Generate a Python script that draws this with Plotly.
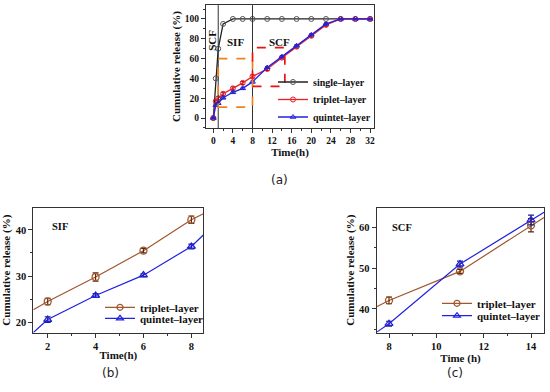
import plotly.graph_objects as go

# ---------------- data (a) ----------------
time_all = [0, 0.5, 1, 2, 4, 6, 8, 11, 14, 17, 20, 23, 26, 29, 32]
single_layer = [0, 40, 70, 95, 100, 100, 100, 100, 100, 100, 100, 100, 100, 100, 100]
triplet_layer = [0, 17, 20, 24.5, 30, 35.5, 42, 49.5, 61, 72, 83, 94, 100, 100, 100]
quintet_layer = [0, 13, 15, 20.5, 26, 30, 36.5, 51, 62, 73, 84, 95, 100, 100, 100]
triplet_err_all = [0, 1.5, 1.5, 1.5, 1.5, 1.5, 1.5, 1.5, 1.5, 1.5, 1.5, 1.5, 0, 0, 0]
quintet_err_all = [0, 1, 1, 1, 1, 1, 1, 1, 1, 1, 1, 1, 0, 0, 0]
phase_bounds = [1, 8]
sif_box = {"x": [1, 8], "y": [11, 60]}
scf_box = {"x": [8, 14.6], "y": [32, 71]}

# ---------------- data (b) SIF ----------------
sif_time = [2, 4, 6, 8]
sif_triplet = [24.5, 29.8, 35.5, 42.2]
sif_triplet_err = [0.7, 0.9, 0.5, 0.8]
sif_quintet = [20.6, 25.8, 30.2, 36.4]
sif_quintet_err = [0.6, 0.4, 0.3, 0.5]
sif_trip_line_t = [1.4, 2, 4, 6, 8, 8.5]
sif_trip_line_y = [22.7, 24.5, 29.8, 35.5, 42.2, 43.5]
sif_quin_line_t = [1.4, 2, 4, 6, 8, 8.5]
sif_quin_line_y = [17.8, 20.6, 25.8, 30.2, 36.4, 38.9]

# ---------------- data (c) SCF ----------------
scf_time = [8, 11, 14]
scf_triplet = [42.1, 49.2, 60.5]
scf_triplet_err = [0.8, 0.5, 1.6]
scf_quintet = [36.4, 51.0, 61.8]
scf_quintet_err = [0.6, 0.7, 1.2]
scf_trip_line_t = [7.5, 8, 11, 14, 14.55]
scf_trip_line_y = [40.6, 42.1, 49.2, 60.5, 62.4]
scf_quin_line_t = [7.5, 8, 11, 14, 14.55]
scf_quin_line_y = [34.4, 36.4, 51.0, 61.8, 63.7]

SERIF = "Liberation Serif, Times New Roman, serif"
BLACK = "#222222"
RED = "#e8202a"
BLUE = "#2222e0"
BROWN = "#a0572d"
ORANGE = "#f0821e"

fig = go.Figure()

# (a)
fig.add_trace(go.Scatter(x=time_all, y=single_layer, mode="lines+markers", name="single\u2013layer",
                         line=dict(color=BLACK, width=1.3),
                         marker=dict(symbol="circle-open", size=5, color="#555555", line=dict(width=1)),
                         xaxis="x", yaxis="y", legend="legend"))
fig.add_trace(go.Scatter(x=time_all, y=triplet_layer, mode="lines+markers", name="triplet\u2013layer",
                         line=dict(color=RED, width=1.3),
                         error_y=dict(type="data", array=triplet_err_all, color="#8b1010", thickness=1, width=2),
                         marker=dict(symbol="circle-open", size=5, color=RED, line=dict(width=1)),
                         xaxis="x", yaxis="y", legend="legend6"))
fig.add_trace(go.Scatter(x=time_all, y=quintet_layer, mode="lines+markers", name="quintet\u2013layer",
                         line=dict(color=BLUE, width=1.3),
                         error_y=dict(type="data", array=quintet_err_all, color="#202080", thickness=1, width=2),
                         marker=dict(symbol="triangle-up-open", size=5, color=BLUE, line=dict(width=1)),
                         xaxis="x", yaxis="y", legend="legend7"))


def panel(xa, ya, leg_t, leg_q, t, trip, trip_err, quin, quin_err, tl_t, tl_y, ql_t, ql_y):
    fig.add_trace(go.Scatter(x=tl_t, y=tl_y, mode="lines", line=dict(color=BROWN, width=1.2),
                             showlegend=False, hoverinfo="skip", xaxis=xa, yaxis=ya))
    fig.add_trace(go.Scatter(x=ql_t, y=ql_y, mode="lines", line=dict(color=BLUE, width=1.2),
                             showlegend=False, hoverinfo="skip", xaxis=xa, yaxis=ya))
    fig.add_trace(go.Scatter(x=t, y=trip, mode="markers", showlegend=False,
                             error_y=dict(type="data", array=trip_err, color="#5a2a10", thickness=1.2, width=3),
                             marker=dict(symbol="circle-open", size=7, color=BROWN, line=dict(width=1.3)),
                             xaxis=xa, yaxis=ya))
    fig.add_trace(go.Scatter(x=t, y=quin, mode="markers", showlegend=False,
                             error_y=dict(type="data", array=quin_err, color="#202080", thickness=1.2, width=3),
                             marker=dict(symbol="triangle-up-open", size=7, color=BLUE, line=dict(width=1.3)),
                             xaxis=xa, yaxis=ya))
    # legend entries (line + marker symbol)
    fig.add_trace(go.Scatter(x=[None], y=[None], mode="lines+markers", name="triplet\u2013layer",
                             line=dict(color=BROWN, width=1.2),
                             marker=dict(symbol="circle-open", size=6, color=BROWN, line=dict(width=1.2)),
                             xaxis=xa, yaxis=ya, legend=leg_t))
    fig.add_trace(go.Scatter(x=[None], y=[None], mode="lines+markers", name="quintet\u2013layer",
                             line=dict(color=BLUE, width=1.2),
                             marker=dict(symbol="triangle-up-open", size=6, color=BLUE, line=dict(width=1.2)),
                             xaxis=xa, yaxis=ya, legend=leg_q))


panel("x2", "y2", "legend2", "legend4", sif_time, sif_triplet, sif_triplet_err, sif_quintet, sif_quintet_err,
      sif_trip_line_t, sif_trip_line_y, sif_quin_line_t, sif_quin_line_y)
panel("x3", "y3", "legend3", "legend5", scf_time, scf_triplet, scf_triplet_err, scf_quintet, scf_quintet_err,
      scf_trip_line_t, scf_trip_line_y, scf_quin_line_t, scf_quin_line_y)

titlefont = dict(family=SERIF, size=11, color="#111111", weight="bold")


def ax(domain, rng, dtick, anchor, title, minor_dtick, standoff, fs):
    return dict(domain=domain, range=rng, dtick=dtick, tick0=0, anchor=anchor,
                showgrid=False, zeroline=False, showline=True, linecolor="#333333", linewidth=1,
                mirror=True, ticks="outside", ticklen=4, tickwidth=1, tickcolor="#333333",
                minor=dict(dtick=minor_dtick, ticks="outside", ticklen=2, tickcolor="#333333"),
                tickfont=dict(family=SERIF, size=fs, color="#111111", weight="bold"),
                title=dict(text=title, font=titlefont, standoff=standoff))


def leg(xpx, ypx, fs):
    return dict(x=xpx / 550, y=1 - ypx / 392, xanchor="left", yanchor="middle",
                bgcolor="rgba(0,0,0,0)", itemwidth=30,
                font=dict(family=SERIF, size=fs, color="#111111", weight="bold"))


fig.update_layout(
    width=550, height=392, margin=dict(l=0, r=0, t=0, b=0),
    paper_bgcolor="white", plot_bgcolor="white",
    font=dict(family=SERIF, color="#111111"),
    xaxis=ax([0.3745, 0.680], [-1.5, 32.8], 4, "y", "Time(h)", 2, 2, 9.5),
    yaxis=ax([0.6735, 0.987], [-10, 114], 20, "x", "Cumulative release (%)", 10, 1, 9.5),
    xaxis2=ax([0.0606, 0.3697], [1.4, 8.5], 2, "y2", "Time(h)", 1, 0, 10.5),
    yaxis2=ax([0.1513, 0.4702], [17.75, 44.8], 10, "x2", "Cumulative release (%)", 5, 2, 10.5),
    xaxis3=ax([0.6849, 0.9896], [7.48, 14.56], 2, "y3", "Time (h)", 1, 0, 10.5),
    yaxis3=ax([0.1513, 0.4702], [34.2, 64.8], 10, "x3", "Cumulative release (%)", 5, 2, 10.5),
    legend=leg(273, 82, 10),
    legend6=leg(273, 99.5, 10),
    legend7=leg(273, 117, 10),
    legend2=leg(100, 307.3, 11),
    legend4=leg(100, 318.3, 11),
    legend3=leg(437, 303.3, 11),
    legend5=leg(437, 315.7, 11),
)

# phase boundaries in (a)
for b in phase_bounds:
    fig.add_shape(type="line", xref="x", yref="y domain", x0=b, x1=b, y0=0, y1=1,
                  line=dict(color="#333333", width=1))
fig.add_shape(type="rect", xref="x", yref="y", x0=sif_box["x"][0], x1=sif_box["x"][1],
              y0=sif_box["y"][0], y1=sif_box["y"][1], line=dict(color=ORANGE, width=1.7, dash="dash"))
fig.add_shape(type="rect", xref="x", yref="y", x0=scf_box["x"][0], x1=scf_box["x"][1],
              y0=scf_box["y"][0], y1=scf_box["y"][1], line=dict(color="#ee1111", width=1.7, dash="dash"))

lab = dict(family=SERIF, size=11, color="#111111", weight="bold")
ctr = dict(xanchor="center", yanchor="middle", showarrow=False)
fig.add_annotation(text="SCF", xref="x", yref="y", x=-0.25, y=78, textangle=-90, font=lab, **ctr)
fig.add_annotation(text="SIF", xref="x", yref="y", x=4.6, y=77, font=lab, **ctr)
fig.add_annotation(text="SCF", xref="x", yref="y", x=13.6, y=77, font=lab, **ctr)
lab2 = dict(family=SERIF, size=10.5, color="#111111", weight="bold")
fig.add_annotation(text="SIF", xref="x2 domain", yref="y2 domain", x=0.157, y=0.848, font=lab2, **ctr)
fig.add_annotation(text="SCF", xref="x3 domain", yref="y3 domain", x=0.149, y=0.844, font=lab2, **ctr)

cap = dict(family="DejaVu Sans", size=12, color="#222222")
fig.add_annotation(text="(a)", xref="paper", yref="paper", x=279 / 550, y=1 - 180 / 392, font=cap, **ctr)
fig.add_annotation(text="(b)", xref="paper", yref="paper", x=110 / 550, y=1 - 373 / 392, font=cap, **ctr)
fig.add_annotation(text="(c)", xref="paper", yref="paper", x=455 / 550, y=1 - 373 / 392, font=cap, **ctr)

fig.write_html("out.html", config={"displayModeBar": False},
               post_script="document.body.style.margin='0px';")
